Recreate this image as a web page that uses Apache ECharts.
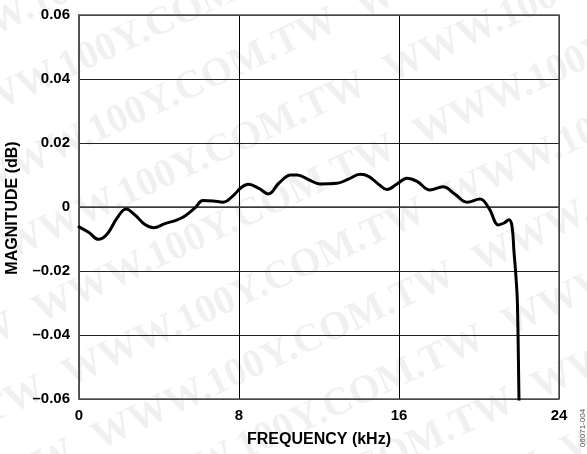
<!DOCTYPE html>
<html>
<head>
<meta charset="utf-8">
<script src="https://cdn.jsdelivr.net/npm/echarts@6/dist/echarts.min.js"></script>
<style>html,body{margin:0;padding:0;background:#fff}#c{width:587px;height:454px}</style>
</head>
<body>
<div id="c"></div>
<script>
const frequencyKHz = [0, 0.5, 0.97, 1.4, 1.9, 2.35, 2.8, 3.3, 3.72, 4.3, 4.88, 5.3, 5.8, 6.2, 6.7, 7.2, 7.7, 8.1, 8.47, 9.0, 9.47, 10.0, 10.6, 10.9, 11.5, 12.05, 12.9, 13.5, 14.05, 14.5, 15.0, 15.4, 15.9, 16.4, 16.9, 17.55, 18.2, 18.8, 19.4, 20.05, 20.5, 20.97, 21.25, 21.5, 21.65, 21.75, 21.85, 21.92, 22.0, 22.03];
const magnitudeDB = [-0.0062, -0.0080, -0.0101, -0.0085, -0.0035, -0.0006, -0.0025, -0.0055, -0.0065, -0.0052, -0.0041, -0.0028, -0.0003, 0.0020, 0.0019, 0.0015, 0.0035, 0.0060, 0.0071, 0.0058, 0.0041, 0.0075, 0.0100, 0.0100, 0.0085, 0.0072, 0.0074, 0.0088, 0.0102, 0.0095, 0.0070, 0.0055, 0.0072, 0.0090, 0.0080, 0.0053, 0.0063, 0.0040, 0.0015, 0.0025, -0.0004, -0.0056, -0.0050, -0.0040, -0.0060, -0.0140, -0.0220, -0.0300, -0.0600, -0.0700];
const yTickLabels = {"0.06": "0.06", "0.04": "0.04", "0.02": "0.02", "0": "0", "-0.02": "\u20130.02", "-0.04": "\u20130.04", "-0.06": "\u20130.06"};

const chart = echarts.init(document.getElementById('c'), null, {renderer: 'canvas'});
const font = 'Liberation Sans, Arial, Helvetica, sans-serif';

// watermark lattice
const wm = [];
const ang = 25 * Math.PI / 180;
const dx = Math.cos(ang), dy = -Math.sin(ang);
const nx = Math.sin(ang), ny = Math.cos(ang);
for (let k = -6; k <= 6; k++) {
  for (let t = -2; t <= 2; t++) {
    const cx = 215 + t * 420 * dx + k * 70 * nx;
    const cy = 230 + t * 420 * dy + k * 70 * ny;
    if (cx < -250 || cx > 840 || cy < -120 || cy > 580) continue;
    wm.push({
      type: 'text', x: cx, y: cy, rotation: ang, z: -10, silent: true,
      style: {text: 'WWW.100Y.COM.TW', fill: 'rgba(0,0,0,0.06)', font: 'bold 40px "Liberation Serif", "Times New Roman", serif', align: 'center', verticalAlign: 'middle'}
    });
  }
}

chart.setOption({
  animation: false,
  backgroundColor: '#fff',
  grid: {left: 79, right: 28, top: 15, bottom: 55, containLabel: false},
  xAxis: {
    type: 'value', min: 0, max: 24, interval: 8,
    name: 'FREQUENCY (kHz)', nameLocation: 'middle', nameGap: 33,
    nameTextStyle: {fontFamily: font, fontWeight: 'bold', fontSize: 16, color: '#000'},
    axisLine: {show: true, lineStyle: {color: '#444', width: 1.5}},
    axisTick: {show: false},
    axisLabel: {fontFamily: font, fontWeight: 'bold', fontSize: 15, color: '#000', margin: 9},
    splitLine: {show: true, lineStyle: {color: '#000', width: 1}}
  },
  yAxis: {
    type: 'value', min: -0.06, max: 0.06, interval: 0.02,
    axisLine: {show: true, lineStyle: {color: '#444', width: 1.5}},
    axisTick: {show: false},
    axisLabel: {fontFamily: font, fontWeight: 'bold', fontSize: 15, color: '#000', margin: 9,
      formatter: v => yTickLabels[String(Math.round(v * 100) / 100)] ?? String(v)},
    splitLine: {show: true, lineStyle: {color: '#222', width: 1.2}}
  },
  graphic: wm.concat([
    {type: 'text', x: 13, y: 208, rotation: Math.PI / 2, z: 10,
      style: {text: 'MAGNITUDE (dB)', fill: '#000', font: 'bold 16px ' + font, align: 'center', verticalAlign: 'middle'}},
    {type: 'text', x: 583, y: 428, rotation: Math.PI / 2, z: 10,
      style: {text: '06071-004', fill: '#555', font: '8px ' + font, align: 'center', verticalAlign: 'middle'}},
    {type: 'rect', shape: {x: 79, y: 15, width: 480, height: 384}, z: 1, silent: true,
      style: {fill: 'none', stroke: '#555', lineWidth: 1.5}}
  ]),
  series: [{
    type: 'line',
    data: frequencyKHz.map((f, i) => [f, magnitudeDB[i]]),
    showSymbol: false, symbol: 'none',
    smooth: 0.4,
    clip: true,
    lineStyle: {color: '#000', width: 3, join: 'round', cap: 'round'},
    z: 5
  }]
});
</script>
</body>
</html>
